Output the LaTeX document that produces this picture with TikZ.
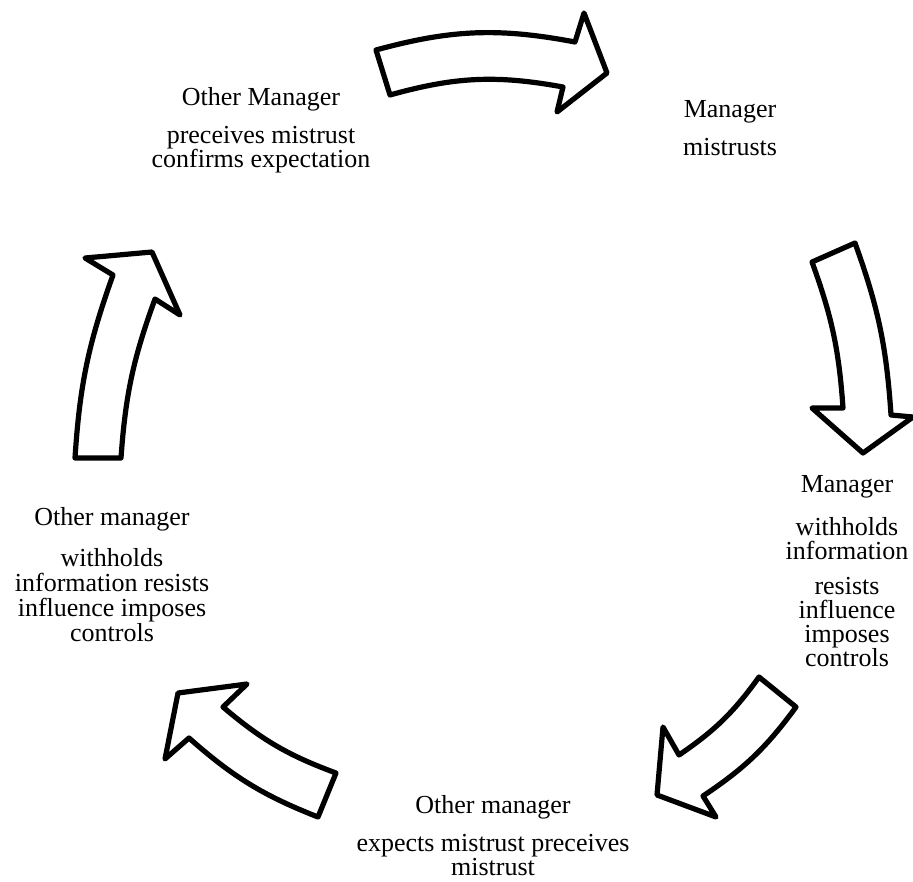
\documentclass[tikz,border=0pt]{standalone}
\usepackage{fontspec}
\setmainfont{Liberation Serif}
\begin{document}
\lineskiplimit=-20pt\relax
\begin{tikzpicture}[x=0.75pt,y=-0.75pt]
        \tikzset{
          blockarrow/.style={draw, line width=3.9pt, line join=round, fill=white},
          cycletext/.style={align=center, inner sep=0pt, anchor=north,
            font=\fontsize{19.5}{18}\selectfont}
        }
        \useasboundingbox (0,0) rectangle (913,881);

        % Arrow on top, pointing right
        \draw[blockarrow] (376,50) to[bend left=13] (575,42) -- (584,13) -- (607,73)
            -- (557,112) -- (563,87) to[bend right=13] (390,95) -- cycle;

        % Arrow on the right, pointing down
        \draw[blockarrow] (855,243) to[bend left=8] (891,415) -- (913,417) -- (863,453)
            -- (812,408) -- (843,408) to[bend right=8] (812,262) -- cycle;

        % Arrow bottom right, pointing down-left
        \draw[blockarrow] (759,677) -- (796,707) to[bend left=10] (703,796) -- (716,817)
            -- (657,795) -- (663,727) -- (679,755) to[bend right=10] (759,677) -- cycle;

        % Arrow bottom left, pointing up-left
        \draw[blockarrow] (336,773) to[bend left=10] (223,707) -- (247,684) -- (178,693)
            -- (165,759) -- (189,738) to[bend right=10] (318,817) -- cycle;

        % Arrow on the left, pointing up
        \draw[blockarrow] (75,458) to[bend left=8] (113,275) -- (85,258) -- (152,252)
            -- (180,315) -- (155,299) to[bend right=8] (121,458) -- cycle;

        % Texts
        \node[cycletext] (OMC) at (261,87) {Other Manager\\[11pt]
            preceives mistrust\\ confirms expectation};
        \node[cycletext] (MM) at (730,100) {Manager\\[11pt] mistrusts};
        \node[cycletext] (MW) at (847,475) {Manager\\[14.5pt] withholds\\ information\\[8.5pt]
            resists\\ influence\\ imposes\\ controls};
        \node[cycletext] (OME) at (493,795) {Other manager\\[11pt]
            expects mistrust preceives\\ mistrust};
        \node[cycletext, font=\fontsize{19.5}{18.75}\selectfont] (OMW) at (112,507)
            {Other manager\\[12pt] withholds\\ information resists\\ influence imposes\\ controls};

    \end{tikzpicture}
\end{document}
